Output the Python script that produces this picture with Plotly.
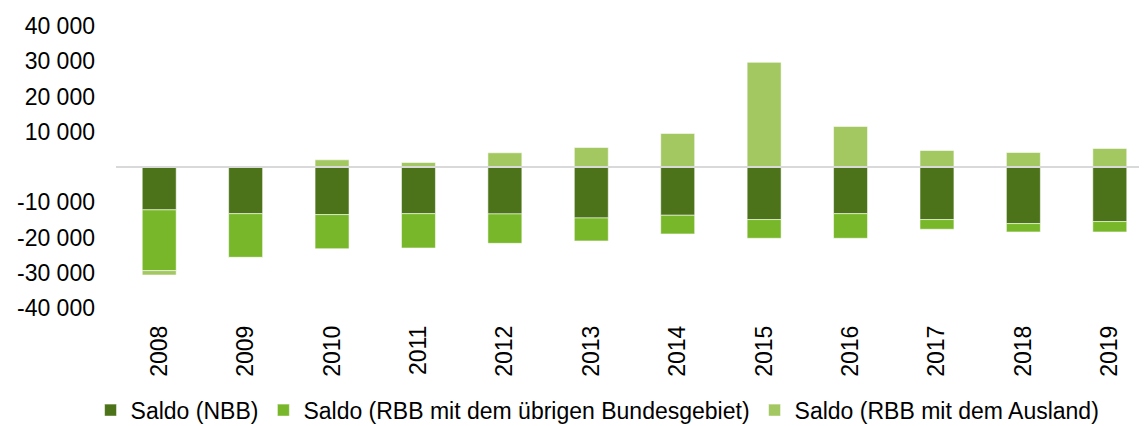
import plotly.graph_objects as go

years = ["2008", "2009", "2010", "2011", "2012", "2013", "2014", "2015", "2016", "2017", "2018", "2019"]
saldo_nbb = [-12160, -13240, -13500, -13240, -13300, -14450, -13690, -14920, -13240, -14920, -16050, -15480]
saldo_rbb_bund = [-17240, -12400, -9680, -9740, -8350, -6530, -5300, -5300, -6980, -2740, -2370, -2940]
saldo_rbb_ausland = [-1240, -100, 2040, 1280, 4030, 5540, 9520, 29690, 11500, 4690, 4120, 5260]

names = ["Saldo (NBB)", "Saldo (RBB mit dem übrigen Bundesgebiet)", "Saldo (RBB mit dem Ausland)"]
colors = ["#4C7319", "#78B72A", "#A3C862"]

tick_vals = [-40000, -30000, -20000, -10000, 10000, 20000, 30000, 40000]
tick_text = [f"{v:,}".replace(",", " ") for v in tick_vals]

fig = go.Figure()
for vals, name, col in zip([saldo_nbb, saldo_rbb_bund, saldo_rbb_ausland], names, colors):
    fig.add_trace(go.Bar(
        x=years, y=vals, name=name,
        marker=dict(color=col, line=dict(color="rgba(255,255,255,0.55)", width=1)),
    ))

fig.add_shape(type="line", xref="paper", x0=0, x1=1, yref="y", y0=0, y1=0,
              line=dict(color="#D9D9D9", width=2), layer="above")

# page body has an 8px default margin; layout is offset to compensate
fig.update_layout(
    width=1147, height=426,
    barmode="relative",
    bargap=0.607,
    plot_bgcolor="white", paper_bgcolor="white",
    margin=dict(l=108, r=2, t=18, b=126),
    font=dict(family="Liberation Sans, Arial, sans-serif", color="#000000"),
    showlegend=True,
    legend=dict(
        orientation="h", xref="container", yref="container",
        x=0.514, xanchor="center", y=0.056, yanchor="middle",
        font=dict(size=23), itemwidth=30, traceorder="normal",
    ),
)
fig.update_xaxes(
    type="category", range=[-0.5, 11.5], tickangle=-90,
    tickfont=dict(size=23), showgrid=False, showline=False, ticks="",
    ticklabelstandoff=12,
)
fig.update_yaxes(
    range=[-40000, 40000], tickvals=tick_vals, ticktext=tick_text,
    tickfont=dict(size=23), showgrid=False, zeroline=False, showline=False, ticks="",
    ticklabelstandoff=20,
)

fig.write_html("out.html")
